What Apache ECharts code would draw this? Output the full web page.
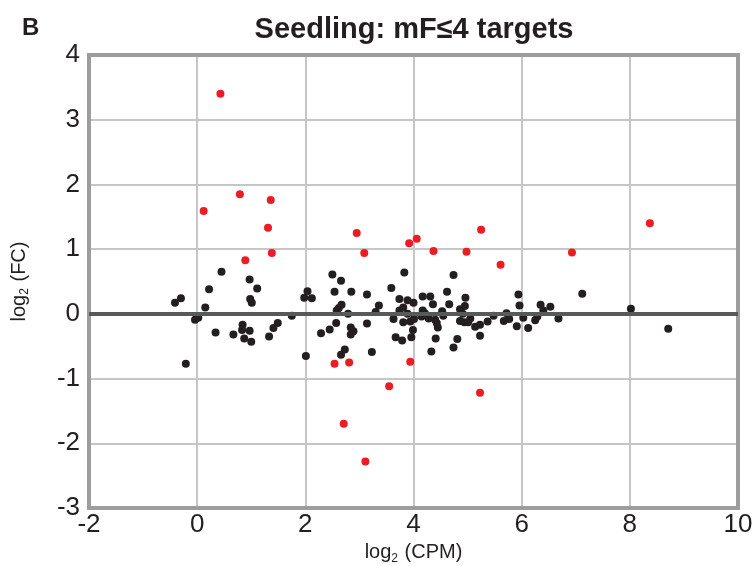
<!DOCTYPE html>
<html>
<head>
<meta charset="utf-8">
<script src="https://cdn.jsdelivr.net/npm/echarts@6/dist/echarts.min.js"></script>
<style>
html,body{margin:0;padding:0;background:#fff;}
#chart{width:756px;height:566px;}
</style>
</head>
<body>
<div id="chart"></div>
<script>
// ---- data ----
const titleText = 'Seedling: mF\u22644 targets';
const panelLabel = 'B';
const xTicks = [-2, 0, 2, 4, 6, 8, 10];
const yTicks = [-3, -2, -1, 0, 1, 2, 3, 4];

// non-significant targets (black)
const blackX = [-0.41,-0.30,-0.21,-0.04,0.02,0.15,0.22,0.34,0.45,0.67,0.84,0.83,0.97,0.87,1.00,0.97,1.11,0.98,1.01,1.33,1.41,1.49,1.75,2.01,2.04,1.98,2.12,2.29,2.45,2.50,2.66,2.54,2.57,2.58,2.62,2.67,2.79,2.85,2.84,2.89,2.84,2.73,2.66,3.14,3.14,3.23,3.30,3.36,3.59,3.63,3.74,3.74,3.83,3.81,3.89,3.89,3.81,3.94,4.00,3.99,3.96,3.67,3.79,4.01,4.17,4.31,4.36,4.17,4.21,4.15,4.28,4.40,4.43,4.45,4.41,4.33,4.53,4.55,4.62,4.66,4.74,4.81,4.74,4.86,4.91,4.96,4.95,4.86,4.94,5.05,5.01,5.14,5.23,5.23,5.37,5.48,5.67,5.72,5.77,5.91,5.94,5.96,6.03,6.12,6.25,6.29,6.35,6.40,6.53,6.68,7.12,8.02,8.71];
const blackY = [0.17,0.24,-0.77,-0.09,-0.06,0.10,0.38,-0.29,0.65,-0.32,-0.17,-0.25,-0.26,-0.38,-0.43,0.53,0.39,0.23,0.17,-0.35,-0.22,-0.14,-0.03,-0.65,0.35,0.25,0.24,-0.30,-0.24,0.61,0.51,0.34,-0.14,0.05,0.09,0.14,0.00,0.34,-0.21,-0.27,-0.32,-0.55,-0.63,0.30,-0.15,-0.59,0.03,0.13,0.40,-0.08,0.23,0.05,0.64,0.10,0.21,0.00,-0.13,-0.12,0.17,-0.25,-0.36,-0.36,-0.41,-0.08,0.27,0.27,0.15,0.05,0.01,-0.04,-0.07,-0.09,-0.14,-0.21,-0.38,-0.58,0.04,-0.03,0.34,0.15,0.60,-0.39,-0.52,0.07,0.00,0.25,0.12,-0.11,-0.13,-0.07,-0.13,-0.20,-0.17,-0.34,-0.12,-0.03,-0.11,0.01,-0.08,-0.19,0.30,0.13,-0.06,-0.22,-0.10,-0.04,0.14,0.05,0.11,-0.07,0.31,0.08,-0.23];

// significant targets (red)
const redX = [0.43,0.12,0.79,1.36,1.31,1.38,0.89,2.95,3.09,3.92,4.06,4.37,4.98,5.25,5.61,6.93,8.37,2.54,2.81,3.94,3.55,5.23,2.71,3.11];
const redY = [3.40,1.59,1.85,1.76,1.33,0.94,0.83,1.25,0.94,1.09,1.16,0.97,0.96,1.30,0.76,0.95,1.40,-0.77,-0.75,-0.74,-1.12,-1.22,-1.70,-2.28];

const zeroLineY = 0;

// ---- chart ----
const pair = (xs, ys) => xs.map((x, i) => [x, ys[i]]);
const FONT = '"Liberation Sans", Arial, Helvetica, sans-serif';
const chart = echarts.init(document.getElementById('chart'), null, {renderer: 'canvas'});

const nameRich = {
  a: {fontFamily: FONT, fontSize: 20, color: '#231f20'},
  s: {fontFamily: FONT, fontSize: 12, color: '#231f20', padding: [11, 1, 0, 0]}
};

chart.setOption({
  animation: false,
  backgroundColor: '#ffffff',
  title: [
    {text: titleText, left: 409, top: 10, textAlign: 'center',
     textStyle: {fontFamily: FONT, fontSize: 29, fontWeight: 'bold', color: '#231f20'}},
    {text: panelLabel, left: 17, top: 11,
     textStyle: {fontFamily: FONT, fontSize: 24, fontWeight: 'bold', color: '#231f20'}}
  ],
  grid: {left: 89, right: 18, top: 55, bottom: 58, show: true, containLabel: false,
         outerBoundsMode: 'none',
         borderColor: '#9d9d9f', borderWidth: 4, backgroundColor: 'transparent', z: 3},
  xAxis: {
    type: 'value', min: xTicks[0], max: xTicks[xTicks.length - 1], interval: 2,
    axisLine: {show: false}, axisTick: {show: false},
    axisLabel: {fontFamily: FONT, fontSize: 26, color: '#231f20', margin: 4},
    splitLine: {show: true, showMinLine: false, showMaxLine: false, lineStyle: {color: '#c6c6c8', width: 2}},
    name: '{a|log}{s|2}{a| (CPM)}', nameLocation: 'middle', nameGap: 30,
    nameTextStyle: {fontFamily: FONT, color: '#231f20', rich: nameRich}
  },
  yAxis: {
    type: 'value', min: yTicks[0], max: yTicks[yTicks.length - 1], interval: 1,
    axisLine: {show: false}, axisTick: {show: false},
    axisLabel: {fontFamily: FONT, fontSize: 26, color: '#231f20', margin: 9, padding: [5, 0, 0, 0]},
    splitLine: {show: true, showMinLine: false, showMaxLine: false, lineStyle: {color: '#c6c6c8', width: 2}},
    name: '{a|log}{s|2}{a| (FC)}', nameLocation: 'middle', nameGap: 58, nameRotate: 90,
    nameTextStyle: {fontFamily: FONT, color: '#231f20', rich: nameRich}
  },
  series: [
    {type: 'scatter', name: 'ns', data: pair(blackX, blackY), symbolSize: 8,
     itemStyle: {color: '#231f20', opacity: 1}, z: 4,
     markLine: {silent: true, symbol: ['none', 'none'], label: {show: false},
       lineStyle: {color: '#58595b', width: 4, type: 'solid'},
       data: [{yAxis: zeroLineY}]}},
    {type: 'scatter', name: 'sig', data: pair(redX, redY), symbolSize: 8,
     itemStyle: {color: '#ec1c24', opacity: 1}, z: 5}
  ]
});
</script>
</body>
</html>
